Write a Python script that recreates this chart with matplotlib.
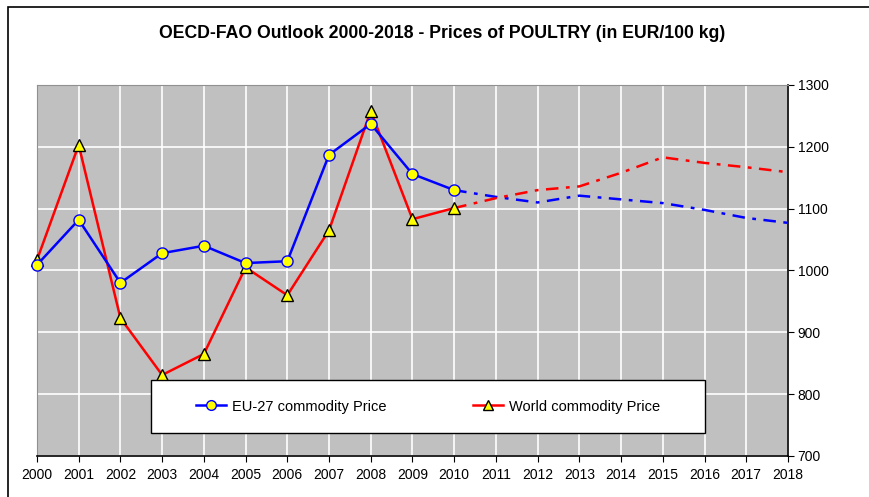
import matplotlib
matplotlib.use("Agg")
import matplotlib.pyplot as plt
from matplotlib.lines import Line2D
from matplotlib.patches import Rectangle

# === data ===
years = list(range(2000, 2019))
eu_price = [1009, 1082, 980, 1028, 1040, 1012, 1015, 1187, 1237, 1156, 1130,
            1119, 1110, 1121, 1115, 1109, 1098, 1085, 1077]
world_price = [1017, 1203, 923, 831, 865, 1005, 960, 1065, 1258, 1083, 1101,
               1117, 1130, 1136, 1158, 1183, 1174, 1167, 1159]
last_actual = 2010
y_ticks = [700, 800, 900, 1000, 1100, 1200, 1300]

plt.rcParams['font.family'] = ['Liberation Sans', 'DejaVu Sans']

fig = plt.figure(figsize=(8.7, 4.97), dpi=100)
ax = fig.add_axes([0.0425, 0.0825, 0.8632, 0.7465])
ax.set_facecolor('#c0c0c0')

# frame around the chart area (only top/left visible in reference)
fig.patches.append(Rectangle((8 / 870, -0.1), 1.2, 1 - 7 / 497 + 0.1, transform=fig.transFigure,
                             fill=False, edgecolor='black', linewidth=1.2))

n = years.index(last_actual) + 1
proj_style = (0, (5, 3, 1.5, 3))

# projections
ax.plot(years[n - 1:], eu_price[n - 1:], color='blue', lw=1.8, ls=proj_style, zorder=3)
ax.plot(years[n - 1:], world_price[n - 1:], color='red', lw=1.8, ls=proj_style, zorder=3)

# actual values
ax.plot(years[:n], world_price[:n], color='red', lw=1.8, marker='^', ms=8,
        mfc='yellow', mec='black', mew=1, zorder=4, clip_on=False)
ax.plot(years[:n], eu_price[:n], color='blue', lw=1.8, marker='o', ms=8,
        mfc='yellow', mec='blue', mew=1, zorder=5, clip_on=False)

ax.set_xlim(2000, 2018)
ax.set_ylim(700, 1300)
ax.set_xticks(years)
ax.set_yticks(y_ticks)
ax.yaxis.tick_right()
ax.tick_params(axis='both', labelsize=10, direction='out', length=4, color='black')
ax.tick_params(axis='y', pad=3)
ax.tick_params(axis='x', pad=5)
ax.grid(True, color='white', lw=1.2)
ax.set_axisbelow(True)

for side in ['top', 'left']:
    ax.spines[side].set_color('#909090')
for side in ['bottom', 'right']:
    ax.spines[side].set_color('black')
    ax.spines[side].set_linewidth(1.2)

# legend box
ax.add_patch(Rectangle((0.1518, 0.062), 0.7377, 0.143, transform=ax.transAxes,
                       facecolor='white', edgecolor='black', lw=1, zorder=6))
handles = [
    Line2D([], [], color='blue', lw=1.8, marker='o', ms=7, mfc='yellow', mec='blue'),
    Line2D([], [], color='red', lw=1.8, marker='^', ms=7, mfc='yellow', mec='black'),
]
leg = ax.legend(handles, ['EU-27 commodity Price', 'World commodity Price'],
                loc='center', bbox_to_anchor=(0.5206, 0.1334), ncol=2,
                frameon=False, fontsize=10.5, handlelength=2.1,
                handletextpad=0.4, columnspacing=5.9, borderaxespad=0)
leg.set_zorder(7)

fig.text(0.508, 0.932, 'OECD-FAO Outlook 2000-2018 - Prices of POULTRY (in EUR/100 kg)',
         ha='center', va='center', fontsize=12.7, fontweight='bold')

fig.savefig('out.png', dpi=100)
